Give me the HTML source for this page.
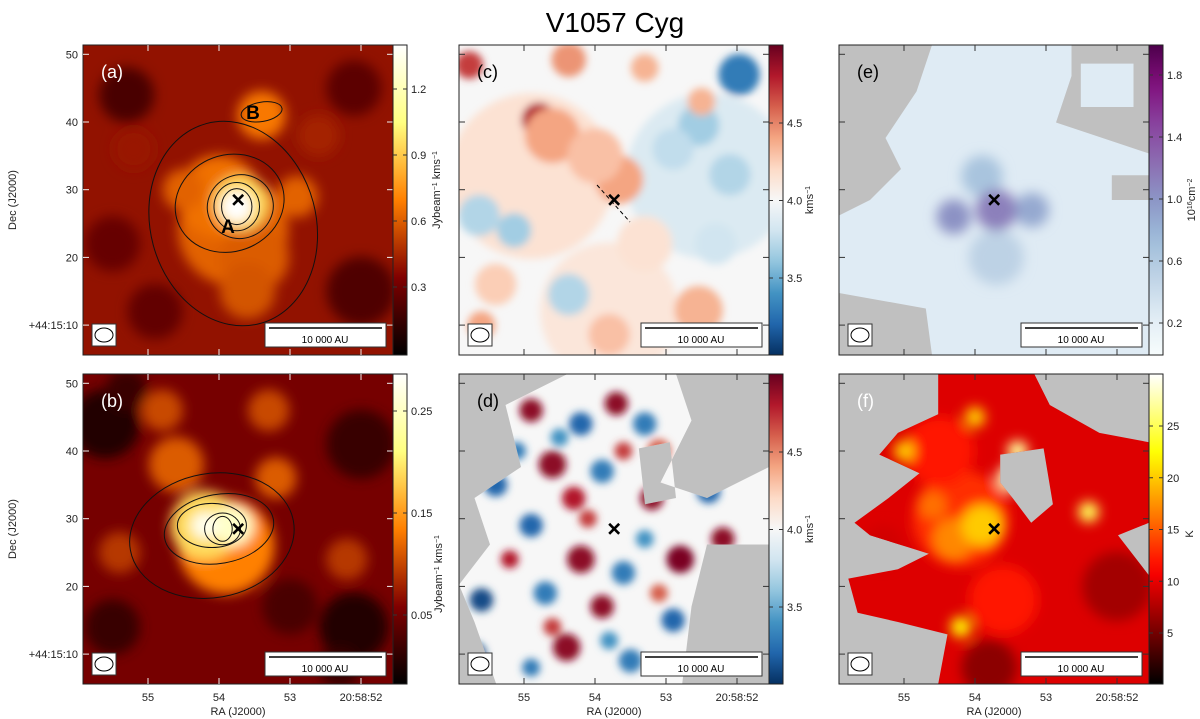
<!DOCTYPE html>
<html><head><meta charset="utf-8"><style>
body{margin:0;background:#fff}
svg{display:block;font-family:"Liberation Sans",sans-serif}
</style></head><body>
<svg id="fig" width="1200" height="719" viewBox="0 0 1200 719" xmlns="http://www.w3.org/2000/svg">
<defs>
<filter id="blur8" x="-20%" y="-20%" width="140%" height="140%"><feGaussianBlur stdDeviation="6"/></filter>
<filter id="blur4" x="-20%" y="-20%" width="140%" height="140%"><feGaussianBlur stdDeviation="4"/></filter>
</defs>
<text x="615" y="32" font-size="28" text-anchor="middle">V1057 Cyg</text>
</svg>
<script>
// ---- data ----
const raTicks=[55,54,53,52];
const raTickLabels=["55","54","53","20:58:52"];
const decTicks=[50,40,30,20,10];
const decTickLabels=["50","40","30","20","+44:15:10"];
const starRA=53.73, starDec=28.5;
// blobs: [ra(s), dec(arcsec), radius(arcsec), value]
const blobsA=[[55.3,44,4,0.2],[52.0,15,5,0.22],[52.1,45,4,0.25],[55.5,22,4,0.28],[54.9,12,4,0.27],[52.6,38,3,0.45],[55.2,36,3,0.42],
[53.8,24,8,0.62],[54.0,29,6,0.66],[53.5,20,5,0.6],[53.6,15,4,0.58],[53.4,41,3.5,0.68],[54.5,30,3,0.62],[52.9,29,3,0.62],[53.7,28,4,0.95],[53.75,27.5,2.3,1.4]];
const blobsB=[[55.6,44,5,0.02],[52,41,5,0.03],[52.1,14,5,0.02],[55.5,14,4,0.03],[53,17,4,0.04],[55.3,49,3,0.03],[52.3,8,3,0.03],
[54.6,38,4,0.12],[53.2,36,3,0.12],[55.4,25,3,0.1],[54.8,46,3,0.11],[53.3,46,3,0.11],[52.2,24,3,0.1],
[53.9,26,7,0.14],[54.2,29,5,0.19],[53.8,29,3,0.25],[54.2,29,2,0.27]];
const blobsC=[[54.9,32,12,4.15],[52.4,32,12,3.85],[53.8,12,10,4.12],[54.79,40.3,2.5,4.8],[54.6,38,4,4.4],[53.66,31.5,3.5,4.4],[54.0,35,4,4.3],[55.63,26.2,3,3.7],[55.14,24,2.5,3.65],
[55.4,16,3,4.25],[52.54,12.2,3.5,4.35],[53.8,8.6,3,4.3],[55.77,48.4,2,4.7],[54.37,49.2,2.5,4.45],[53.3,48,2,4.35],
[51.97,47,3,3.3],[52.54,39.5,3,3.65],[52.1,32.2,3,3.7],[52.9,36,3,3.75],[54.37,14.5,3,3.7],[52.3,22,3,3.8],[52.5,43,2,4.35],[53.3,22,4,4.15],[55.6,10,2,4.4]];
const blobsD=[[54.9,46,1.7,4.9],[54.2,44,1.7,3.2],[53.7,47,1.7,4.9],[53.3,44,1.7,3.3],[54.6,38,2,4.9],[53.9,37,1.7,3.3],[54.3,33,1.7,4.8],
[55.4,35,1.7,3.2],[53.2,33,1.7,4.9],[54.9,29,1.7,3.2],[54.2,24,2,4.9],[53.6,22,1.7,3.3],[52.8,24,2,4.95],[54.7,19,1.7,3.3],[53.9,17,1.7,4.9],
[52.9,15,1.7,3.2],[54.4,11,2,4.9],[53.5,9,1.7,3.3],[55.6,18,1.7,3.1],[52.2,27,1.7,4.9],[52.4,34,1.7,3.2],[55.7,10,1.7,3.1],[53.1,40,1.7,4.6],
[54.5,42,1.3,3.4],[53.6,40,1.3,4.7],[55.1,40,1.3,3.3],[54.1,30,1.3,4.7],[53.3,27,1.3,3.4],[55.2,24,1.3,4.8],[54.6,14,1.3,4.7],[53.1,19,1.3,4.6],[53.8,12,1.3,3.4],[54.9,8,1.3,3.3]];
const blobsE=[[53.7,20,4,0.5],[53.9,32,3,0.65],[53.2,27,2.5,0.85],[54.3,26,2.5,1.0],[53.7,27,3,1.1],[55.3,8,1,1.0]];
const blobsF=[[52,20,5,7],[53.8,8,4,6],[55.3,26,3,9],[54.2,30,7,13],[53.6,18,5,12],[54.5,40,5,12],[54.3,27,3,17],[53.9,29,3,20],[54.2,14,1.5,22],[52.4,31,1.5,25],[55,40,1.5,20],[54,45,1.5,20],[53.5,36,2,28],[53.4,40,1.5,27],[54.6,32,2,16]];
// colorbar ticks
const cbTicksA=[1.2,0.9,0.6,0.3], cbTicksB=[0.25,0.15,0.05], cbTicksV=[4.5,4.0,3.5];
const cbTicksE=[1.8,1.4,1.0,0.6,0.2], cbTicksF=[25,20,15,10,5];

// ---- helpers ----
const NS="http://www.w3.org/2000/svg";
const svg=document.getElementById('fig');
function mk(tag,attrs,parent){const e=document.createElementNS(NS,tag);for(const k in attrs)e.setAttribute(k,attrs[k]);(parent||svg).appendChild(e);return e;}
const W=310,H=310;
function xS(ra){return 278+(52-ra)*71;}
function yS(dec){return 9.3+(50-dec)*6.77;}
function rS(r){return r*6.9;}
const cl=v=>Math.max(0,Math.min(1,v));
function rgb(r,g,b){return `rgb(${Math.round(cl(r)*255)},${Math.round(cl(g)*255)},${Math.round(cl(b)*255)})`;}
function afmhot(t){return rgb(2*t,2*t-0.5,2*t-1);}
function hot(t){return rgb(t/0.365,(t-0.365)/0.38,(t-0.746)/0.254);}
function stopsMap(st){return t=>{t=cl(t);const n=st.length-1;const i=Math.min(n-1,Math.floor(t*n));const f=t*n-i;const a=st[i],b=st[i+1];
 const p=h=>[parseInt(h.substr(1,2),16),parseInt(h.substr(3,2),16),parseInt(h.substr(5,2),16)];const A=p(a),B=p(b);
 return `rgb(${Math.round(A[0]+(B[0]-A[0])*f)},${Math.round(A[1]+(B[1]-A[1])*f)},${Math.round(A[2]+(B[2]-A[2])*f)})`;};}
const rdbu=stopsMap(["#053061","#2166ac","#4393c3","#92c5de","#d1e5f0","#f7f7f7","#fddbc7","#f4a582","#d6604d","#b2182b","#67001f"]);
const bupu=stopsMap(["#f7fcfd","#e0ecf4","#bfd3e6","#9ebcda","#8c96c6","#8c6bb1","#88419d","#810f7c","#4d004b"]);

function panel(id,px,py,opt){
 const g=mk('g',{transform:`translate(${px},${py})`});
 
 
 const cp=mk('clipPath',{id:'cp'+id},g);mk('rect',{x:0,y:0,width:W,height:H},cp);
 const norm=v=>(v-opt.vmin)/(opt.vmax-opt.vmin);
 const img=mk('g',{'clip-path':`url(#cp${id})`},g);
 
 
 let host=img;
 if(opt.mask){
  mk('rect',{x:0,y:0,width:W,height:H,fill:'#c0c0c0'},img);
  const mp=mk('clipPath',{id:'mp'+id},g);
  let d='M'+opt.mask.map(p=>(p[0]*W)+','+(p[1]*H)).join('L')+'Z';
  (opt.holes||[]).forEach(h=>{d+='M'+h.map(p=>(p[0]*W)+','+(p[1]*H)).join('L')+'Z';});
  mk('path',{d:d,'clip-rule':'evenodd'},mp);
  host=mk('g',{'clip-path':`url(#mp${id})`},img);
 }
 mk('rect',{x:0,y:0,width:W,height:H,fill:opt.cmap(norm(opt.bg))},host);
 const bl=mk('g',{filter:`url(#${opt.blur||'blur8'})`},host);
 opt.blobs.forEach(b=>{
  const c=mk('circle',{cx:xS(b[0]),cy:yS(b[1]),r:rS(b[2]),fill:opt.cmap(norm(b[3]))},bl);
  
  
 });
 (opt.contours||[]).forEach(c=>{
  const e=mk('ellipse',{cx:xS(c[0]),cy:yS(c[1]),rx:rS(c[2]),ry:rS(c[3]),transform:`rotate(${c[4]} ${xS(c[0])} ${yS(c[1])})`,fill:'none',stroke:'#111','stroke-width':1},img);
  
  
 });
 mk('rect',{x:0,y:0,width:W,height:H,fill:'none',stroke:'#222','stroke-width':1},g);
 const tc=opt.tickColor||'#333';
 raTicks.forEach(r=>{mk('line',{x1:xS(r),x2:xS(r),y1:0,y2:6,stroke:tc},g);mk('line',{x1:xS(r),x2:xS(r),y1:H,y2:H-6,stroke:tc},g);});
 decTicks.forEach(d=>{mk('line',{y1:yS(d),y2:yS(d),x1:0,x2:6,stroke:tc},g);mk('line',{y1:yS(d),y2:yS(d),x1:W,x2:W-6,stroke:tc},g);});
 const sx=xS(starRA),sy=yS(starDec);
 const st=mk('g',{stroke:'#000','stroke-width':2.6},g);
 
 
 mk('line',{x1:sx-5,y1:sy-5,x2:sx+5,y2:sy+5},st);mk('line',{x1:sx-5,y1:sy+5,x2:sx+5,y2:sy-5},st);
 const lb=mk('text',{x:18,y:33,'font-size':18,fill:opt.labelColor||'#fff'},g);lb.textContent='('+id+')';
 
 
 const bm=mk('g',{},g);
 
 
 mk('rect',{x:9,y:279,width:24,height:22,fill:'#fff',stroke:'#333'},bm);
 mk('ellipse',{cx:21,cy:290,rx:9,ry:7,fill:'none',stroke:'#000'},bm);
 const sb=mk('g',{},g);
 
 
 mk('rect',{x:182,y:278,width:121,height:24,fill:'#fff',stroke:'#333'},sb);
 mk('line',{x1:186,x2:299,y1:283,y2:283,stroke:'#000','stroke-width':1.5},sb);
 const t=mk('text',{x:242,y:298,'font-size':10,'text-anchor':'middle'},sb);t.textContent='10 000 AU';
 const cb=mk('g',{transform:`translate(${W},0)`},g);
 
 
 const gr=mk('linearGradient',{id:'gr'+id,x1:0,y1:1,x2:0,y2:0},cb);
 for(let i=0;i<=20;i++)mk('stop',{offset:i/20,'stop-color':opt.cmap(i/20)},gr);
 mk('rect',{x:0,y:0,width:14,height:H,fill:`url(#gr${id})`,stroke:'#222'},cb);
 opt.cbTicks.forEach((v,i)=>{const y=opt.cbY(v);
  mk('line',{x1:0,x2:4,y1:y,y2:y,stroke:'#333'},cb);mk('line',{x1:10,x2:14,y1:y,y2:y,stroke:'#333'},cb);
  const tt=mk('text',{x:18,y:y+4,'font-size':11,fill:'#222'},cb);tt.textContent=(opt.cbFmt?opt.cbFmt(v):String(v));
  
  
 });
 const ul=mk('text',{x:0,y:0,'font-size':11,fill:'#222','text-anchor':'middle',transform:`translate(${opt.unitX},${opt.unitY}) rotate(-90)`},cb);
 ul.innerHTML=opt.unit;
 
 
 if(opt.yLabels){
  decTicks.forEach((d,i)=>{const tt=mk('text',{x:-5,y:yS(d)+4,'font-size':11,'text-anchor':'end',fill:'#222'},g);tt.textContent=decTickLabels[i];
   });
  const yl=mk('text',{x:0,y:0,'font-size':11,'text-anchor':'middle',fill:'#222',transform:`translate(-67,${H/2}) rotate(-90)`},g);yl.textContent='Dec (J2000)';
  
 }
 if(opt.xLabels){
  raTicks.forEach((r,i)=>{const tt=mk('text',{x:xS(r),y:H+17,'font-size':11,'text-anchor':'middle',fill:'#222'},g);tt.textContent=raTickLabels[i];
   });
  const xl=mk('text',{x:W/2,y:H+31,'font-size':11,'text-anchor':'middle',fill:'#222'},g);xl.textContent='RA (J2000)';
  
 }
 return g;
}
const sup=s=>`<tspan baseline-shift="super" font-size="7">${s}</tspan>`;
const lin=(v0,y0,v1,y1)=>v=>y0+(v-v0)*(y1-y0)/(v1-v0);

panel('a',83,45,{cmap:afmhot,vmin:0,vmax:1.4,bg:0.4,blobs:blobsA,tickColor:'#eee',yLabels:true,
 contours:[[53.4,41.5,3,1.4,-10],[53.75,27.5,2.2,2.6,0],[53.75,27.5,3.3,3.5,0],[53.7,27.5,4.8,4.6,-20],[53.85,28,8,7,-20],[53.8,25,12,15,-15]],
 cbTicks:cbTicksA,cbY:lin(1.2,44,0.3,242),unit:'Jybeam'+sup('−1')+' kms'+sup('−1'),unitX:47,unitY:145});
const tA=mk('text',{x:228,y:233,'font-size':19,'font-weight':'bold','text-anchor':'middle'});tA.textContent='A';

const tB=mk('text',{x:253,y:119,'font-size':19,'font-weight':'bold','text-anchor':'middle'});tB.textContent='B';


panel('b',83,374,{cmap:afmhot,vmin:0,vmax:0.28,bg:0.065,blobs:blobsB,tickColor:'#eee',yLabels:true,xLabels:true,
 contours:[[53.95,28.5,1.4,1.8,0],[53.95,28.5,2.6,2.3,0],[54.1,29,5,3.2,0],[54.0,28.5,8,5,-10],[54.1,27.5,12,9,-10]],
 cbTicks:cbTicksB,cbY:lin(0.25,37,0.05,241),unit:'Jybeam'+sup('−1')+' kms'+sup('−1'),unitX:49,unitY:200});

panel('c',459,45,{cmap:rdbu,vmin:3.0,vmax:5.0,bg:4.0,blobs:blobsC,blur:'blur4',labelColor:'#000',
 cbTicks:cbTicksV,cbY:lin(4.5,78,3.5,233),cbFmt:v=>v.toFixed(1),unit:'kms'+sup('−1'),unitX:44,unitY:155});
const dl=mk('line',{x1:597,y1:185,x2:630,y2:222,stroke:'#000','stroke-dasharray':'4,3'});


panel('d',459,374,{cmap:rdbu,vmin:3.0,vmax:5.0,bg:4.0,blobs:blobsD,blur:'blur4',labelColor:'#000',xLabels:true,
 mask:[[0.35,0],[0.7,0],[0.75,0.15],[0.65,0.35],[0.8,0.4],[1,0.3],[1,0.55],[0.8,0.55],[0.75,0.75],[0.72,1],[0.12,1],[0.05,0.8],[0,0.68],[0.1,0.55],[0.05,0.4],[0.2,0.3],[0.15,0.1]],
 holes:[[[0.58,0.24],[0.68,0.22],[0.7,0.4],[0.6,0.42]]],
 cbTicks:cbTicksV,cbY:lin(4.5,78,3.5,233),cbFmt:v=>v.toFixed(1),unit:'kms'+sup('−1'),unitX:44,unitY:155});

panel('e',839,45,{cmap:bupu,vmin:0,vmax:1.95,bg:0.25,blobs:blobsE,blur:'blur8',labelColor:'#000',
 mask:[[0.3,0],[0.75,0],[0.75,0.1],[0.7,0.25],[0.85,0.3],[1,0.35],[1,1],[0.3,1],[0.28,0.85],[0,0.8],[0,0.55],[0.1,0.5],[0.2,0.4],[0.15,0.3],[0.25,0.15]],
 holes:[[[0.78,0.06],[0.95,0.06],[0.95,0.2],[0.78,0.2]],[[0.88,0.42],[1,0.42],[1,0.5],[0.88,0.5]]],
 cbTicks:cbTicksE,cbY:lin(1.8,30,0.2,278),cbFmt:v=>v.toFixed(1),unit:'10'+sup('16')+'cm'+sup('−2'),unitX:46,unitY:155});

panel('f',839,374,{cmap:hot,vmin:0,vmax:30,bg:9.5,blobs:blobsF,blur:'blur8',xLabels:true,
 mask:[[0.32,0],[0.63,0],[0.68,0.1],[0.84,0.19],[1,0.22],[1,0.48],[0.9,0.52],[1,0.65],[1,1],[0.32,1],[0.35,0.84],[0.19,0.8],[0.06,0.77],[0.03,0.66],[0.19,0.63],[0.29,0.58],[0.1,0.52],[0.05,0.48],[0.16,0.4],[0.26,0.32],[0.13,0.26],[0.19,0.19],[0.32,0.13]],
 holes:[[[0.52,0.26],[0.66,0.24],[0.69,0.42],[0.62,0.48],[0.56,0.4],[0.52,0.35]]],
 cbTicks:cbTicksF,cbY:lin(25,52,5,259),unit:'K',unitX:44,unitY:160});
</script>
</body></html>
